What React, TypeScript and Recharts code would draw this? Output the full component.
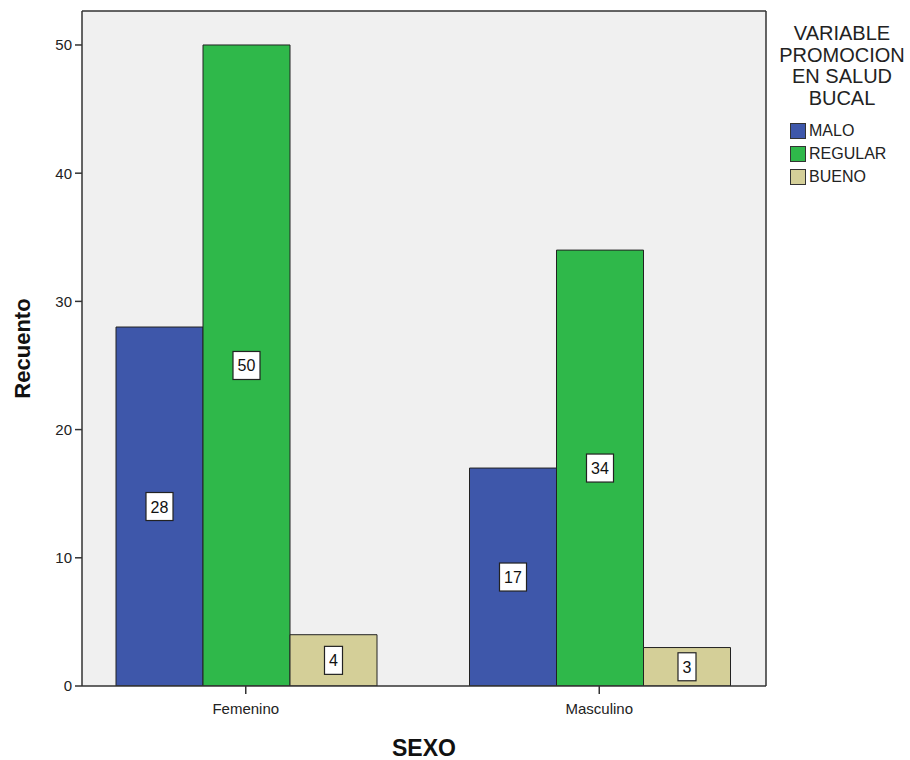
import { BarChart, Bar, XAxis, YAxis, CartesianGrid, LabelList } from "recharts"

const categories = ["Femenino", "Masculino"]
const malo = [28, 17]
const regular = [50, 34]
const bueno = [4, 3]
const yTicks = [0, 10, 20, 30, 40, 50]

const data = categories.map((name, i) => ({
  name,
  MALO: malo[i],
  REGULAR: regular[i],
  BUENO: bueno[i],
}))

const series = [
  { key: "MALO", color: "#3e57aa" },
  { key: "REGULAR", color: "#2fb84a" },
  { key: "BUENO", color: "#d4cf98" },
]

const font = "'Liberation Sans', Arial, sans-serif"

// chart frame
const W = 910
const H = 760
const M = { top: 11, right: 144, bottom: 0, left: 0 }

const BoxLabel = (props: any) => {
  const { x, y, width, height, value } = props
  const cx = x + width / 2
  const cy = y + height / 2
  const w = String(value).length > 1 ? 27 : 18
  return (
    <g>
      <rect x={cx - w / 2} y={cy - 14} width={w} height={28} fill="#fff" stroke="#222" strokeWidth={1.2} />
      <text x={cx} y={cy + 6} textAnchor="middle" fontSize={16} fill="#111" fontFamily={font}>
        {value}
      </text>
    </g>
  )
}

const LegendBox = () => (
  <div style={{ position: "absolute", left: 772, top: 23, fontFamily: font, color: "#222", width: 140 }}>
    <div style={{ textAlign: "center", fontSize: 20, lineHeight: "21.5px" }}>
      VARIABLE
      <br />
      PROMOCION
      <br />
      EN SALUD
      <br />
      BUCAL
    </div>
    <div style={{ marginTop: 10, marginLeft: 18 }}>
      {series.map((s) => (
        <div key={s.key} style={{ display: "flex", alignItems: "center", height: 23, fontSize: 16 }}>
          <span
            style={{
              display: "inline-block",
              boxSizing: "border-box",
              width: 16,
              height: 16,
              background: s.color,
              border: "1.5px solid #333",
              marginRight: 3,
            }}
          />
          {s.key}
        </div>
      ))}
    </div>
  </div>
)

export default function App() {
  return (
    <div style={{ position: "absolute", left: 0, top: 0, width: W, height: H, background: "#fff" }}>
      <BarChart width={W} height={H} data={data} margin={M} barCategoryGap={47} barGap={0}>
        <CartesianGrid
          fill="#f0f0f0"
          stroke="#333"
          strokeWidth={1.5}
          horizontalPoints={[M.top]}
          verticalPoints={[W - M.right]}
        />
        <XAxis
          dataKey="name"
          height={74}
          padding={{ left: -13, right: -10 }}
          stroke="#333"
          strokeWidth={1.5}
          tickSize={8}
          tick={{ fill: "#222", fontSize: 15, fontFamily: font }}
          tickMargin={9}
          label={{
            value: "SEXO",
            position: "insideBottom",
            offset: 4,
            style: { fontSize: 23, fontWeight: "bold", fill: "#111", fontFamily: font },
          }}
        />
        <YAxis
          width={82}
          domain={[0, 52.65]}
          ticks={yTicks}
          allowDataOverflow
          stroke="#333"
          strokeWidth={1.5}
          tickSize={7}
          tickMargin={3}
          tick={{ fill: "#222", fontSize: 15, fontFamily: font }}
          label={(p: any) => {
            const vb = p.viewBox
            const cy = vb.y + vb.height / 2
            return (
              <text
                x={30}
                y={cy}
                transform={`rotate(-90 30 ${cy})`}
                textAnchor="middle"
                fontSize={22}
                fontWeight="bold"
                fill="#111"
                fontFamily={font}
              >
                Recuento
              </text>
            )
          }}
        />
        {series.map((s) => (
          <Bar key={s.key} dataKey={s.key} fill={s.color} stroke="#222" strokeWidth={1} isAnimationActive={false}>
            <LabelList dataKey={s.key} content={BoxLabel} />
          </Bar>
        ))}
      </BarChart>
      <LegendBox />
    </div>
  )
}
